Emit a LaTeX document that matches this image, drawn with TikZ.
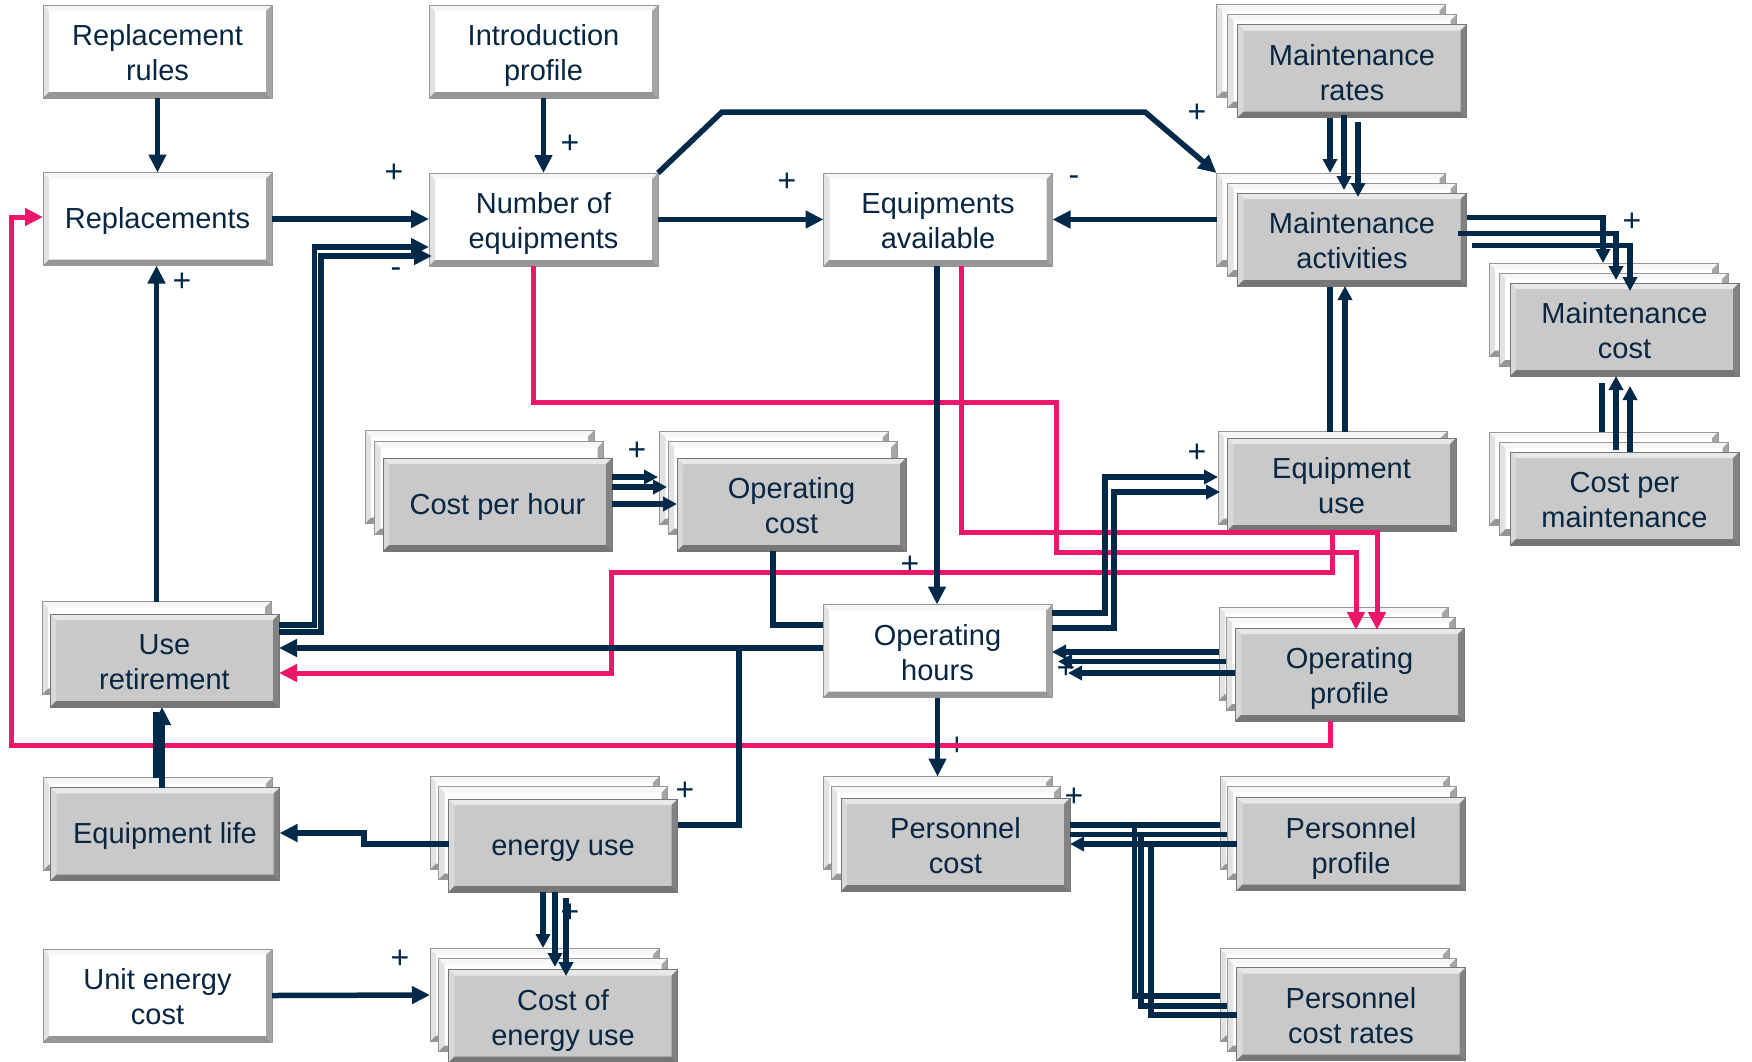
\documentclass[tikz,border=0pt]{standalone}
\usepackage{fontspec}
\setmainfont{Liberation Sans}
\usetikzlibrary{arrows.meta,calc}
\definecolor{navy}{RGB}{0,41,74}
\definecolor{pinkl}{RGB}{237,22,106}
\definecolor{txtc}{RGB}{8,38,66}
\newcommand\bevw{6pt}
\newcommand\bxs{\rule[-8pt]{0pt}{35pt}}
\newcommand\bxt{\rule[-8pt]{0pt}{39pt}}
\newcommand\bevelfill[4]{%
 \fill[#1] (path picture bounding box.north west) -- (path picture bounding box.north east) -- ([shift={(-\bevw,-\bevw)}]path picture bounding box.north east) -- ([shift={(\bevw,-\bevw)}]path picture bounding box.north west) -- cycle;
 \fill[#2] (path picture bounding box.north west) -- (path picture bounding box.south west) -- ([shift={(\bevw,\bevw)}]path picture bounding box.south west) -- ([shift={(\bevw,-\bevw)}]path picture bounding box.north west) -- cycle;
 \fill[#3] (path picture bounding box.north east) -- (path picture bounding box.south east) -- ([shift={(-\bevw,\bevw)}]path picture bounding box.south east) -- ([shift={(-\bevw,-\bevw)}]path picture bounding box.north east) -- cycle;
 \fill[#4] (path picture bounding box.south west) -- (path picture bounding box.south east) -- ([shift={(-\bevw,\bevw)}]path picture bounding box.south east) -- ([shift={(\bevw,\bevw)}]path picture bounding box.south west) -- cycle;
}
\definecolor{wtop}{RGB}{246,246,246}
\definecolor{wleft}{RGB}{226,226,226}
\definecolor{wright}{RGB}{165,165,165}
\definecolor{wbot}{RGB}{150,150,150}
\definecolor{wline}{RGB}{150,150,150}
\definecolor{gfill}{RGB}{201,201,201}
\definecolor{gtop}{RGB}{232,232,232}
\definecolor{gleft}{RGB}{216,216,216}
\definecolor{gright}{RGB}{130,130,130}
\definecolor{gbot}{RGB}{118,118,118}
\tikzset{
 boxbase/.style={minimum width=229pt, minimum height=93pt, inner sep=0pt, outer sep=0pt,
   text=txtc, align=center, font=\fontsize{29}{35}\selectfont, line width=0.8pt},
 wbox/.style={boxbase, draw=wline, fill=white, path picture={\bevelfill{wtop}{wleft}{wright}{wbot}}},
 gbox/.style={boxbase, draw=gbot, fill=gfill, path picture={\bevelfill{gtop}{gleft}{gright}{gbot}}},
 nv/.style={draw=navy, line width=5.5pt},
 pk/.style={draw=pinkl, line width=5pt},
 arr/.style={-{Triangle[length=18pt,width=17pt]}},
 sarr/.style={-{Triangle[length=14pt,width=14pt]}},
 lab/.style={text=navy, font=\fontsize{32}{32}\selectfont, inner sep=0pt},
}
\begin{document}
\begin{tikzpicture}[x=1pt,y=-1pt]
\useasboundingbox (0,0) rectangle (1752,1061);
\fill[white] (0,0) rectangle (1752,1061);

% white boxes
\node[wbox] (rrules) at (157.5,51.5) {\bxt Replacement\\\bxs rules};
\node[wbox] (intro) at (543.5,51.5) {\bxt Introduction\\\bxs profile};
\node[wbox] (repl) at (157.5,219) {\bxs Replacements};
\node[wbox] (noe) at (543.5,219.5) {\bxt Number of\\\bxs equipments};
\node[wbox] (eqav) at (938,219.5) {\bxt Equipments\\\bxs available};
\node[wbox] (ophrs) at (937.5,651) {\bxt Operating\\\bxs hours};
\node[wbox] (unitec) at (157.5,995.5) {\bxt Unit energy\\\bxs cost};

% stacked boxes
\node[wbox] (mrates3) at (1331,51) {};
\node[wbox] (mrates2) at (1342,61) {};
\node[gbox] (mrates) at (1352,71) {\bxt Maintenance\\\bxs rates};

\node[wbox] (mact3) at (1331,219.5) {};
\node[wbox] (mact2) at (1342,229.5) {};
\node[gbox] (mact) at (1352,239.5) {\bxt Maintenance\\\bxs activities};

\node[wbox] (mcost3) at (1603.5,310) {};
\node[wbox] (mcost2) at (1613.5,319.5) {};
\node[gbox] (mcost) at (1624.5,329.5) {\bxt Maintenance\\\bxs cost};

\node[wbox] (cpm3) at (1603.5,478.5) {};
\node[wbox] (cpm2) at (1614,488.5) {};
\node[gbox] (cpm) at (1624.5,498.5) {\bxt Cost per\\\bxs maintenance};

\node[wbox] (equse2) at (1332.5,478) {};
\node[gbox] (equse) at (1341.5,484.5) {\bxt Equipment\\\bxs use};

\node[wbox] (opprof3) at (1333.5,653.5) {};
\node[wbox] (opprof2) at (1340.5,663.5) {};
\node[gbox] (opprof) at (1349.5,674.5) {\bxt Operating\\\bxs profile};

\node[wbox] (cph3) at (479.5,477) {};
\node[wbox] (cph2) at (489,488) {};
\node[gbox] (cph) at (497.5,504.5) {\bxs Cost per hour};

\node[wbox] (opcost3) at (774,478) {};
\node[wbox] (opcost2) at (782.5,488) {};
\node[gbox] (opcost) at (791.5,504.5) {\bxt Operating\\\bxs cost};

\node[wbox] (useret2) at (156.5,648) {};
\node[gbox] (useret) at (164.5,660.5) {\bxt Use\\\bxs retirement};

\node[wbox] (eqlife2) at (157.5,824) {};
\node[gbox] (eqlife) at (165,834) {\bxs Equipment life};

\node[wbox] (enuse3) at (544.5,823) {};
\node[wbox] (enuse2) at (553,833) {};
\node[gbox] (enuse) at (563,845.5) {\bxs energy use};

\node[wbox] (coeu3) at (544.5,995) {};
\node[wbox] (coeu2) at (553,1005) {};
\node[gbox] (coeu) at (563,1016) {\bxt Cost of\\\bxs energy use};

\node[wbox] (pcost3) at (937.5,823) {};
\node[wbox] (pcost2) at (945.5,833) {};
\node[gbox] (pcost) at (955.5,844.5) {\bxt Personnel\\\bxs cost};

\node[wbox] (pprof3) at (1334.5,823) {};
\node[wbox] (pprof2) at (1341.5,833) {};
\node[gbox] (pprof) at (1351,844) {\bxt Personnel\\\bxs profile};

\node[wbox] (pcr3) at (1334.5,995) {};
\node[wbox] (pcr2) at (1341.5,1005) {};
\node[gbox] (pcr) at (1351,1014) {\bxt Personnel\\\bxs cost rates};

% signs
\node[lab] (s1) at (570,144) {+};
\node[lab] (s2) at (394,173) {+};
\node[lab] (s3) at (182,282) {+};
\node[lab] (s4) at (396,273) {-};
\node[lab] (s5) at (787,182) {+};
\node[lab] (s6) at (1074,181) {-};
\node[lab] (s7) at (1197,113) {+};
\node[lab] (s8) at (1632,222) {+};
\node[lab] (s9) at (637,451) {+};
\node[lab] (s10) at (910,565) {+};
\node[lab] (s11) at (1197,453) {+};
\node[lab] (s12) at (1066,669) {+};
\node[lab] (s13) at (957,746) {+};
\node[lab] (s14) at (685,791) {+};
\node[lab] (s15) at (570,913) {+};
\node[lab] (s16) at (400,959) {+};
\node[lab] (s17) at (1074,797) {+};

% pink connectors
\draw[pk,arr] (opprof.south -| 1330,0) -- (1330,745) -- (11,745) -- (11,217) -- (repl.west |- 0,217);
\draw[pk,arr] (noe.south -| 533,0) -- (533,402) -- (1056,402) -- (1056,552) -- (1356,552) -- (1356,630);
\draw[pk,arr] (eqav.south -| 961,0) -- (961,532) -- (1377,532) -- (1377,630);
\draw[pk,arr] (equse.south -| 1332,0) -- (1332,572) -- (611,572) -- (611,673) -- (useret.east |- 0,673);

% navy connectors
\draw[nv,arr] (rrules) -- (repl);
\draw[nv,arr] (intro) -- (noe);
\draw[nv,arr] (repl.east) -- (noe.west |- repl.east);
\draw[nv,arr] (useret.east |- 0,625) -- (314.5,625) -- (314.5,247) -- (noe.west |- 0,247);
\draw[nv,arr] (useret.east |- 0,632) -- (321,632) -- (321,256) -- (432,256);
\draw[nv,arr] (noe) -- (eqav);
\draw[nv,arr] (noe.north east) -- (722,112) -- (1145,112) -- (mact3.north west);
\draw[nv,arr] (mact3.west) -- (eqav.east |- mact3.west);
% maintenance rates -> activities
\draw[nv,sarr] (mrates.south -| 1330,0) -- (mact3.north -| 1330,0);
\draw[nv,sarr] (1344,115) -- (1344,190);
\draw[nv,sarr] (1358,122) -- (1358,197);
% activities -> maintenance cost
\draw[nv,sarr] (mact.east |- 0,217.5) -- (1603,217.5) -- (1603,263);
\draw[nv,sarr] (1458,233.5) -- (1616,233.5) -- (1616,280);
\draw[nv,sarr] (1472,245.5) -- (1630,245.5) -- (1630,291);
% equipment use -> activities
\draw[nv] (equse2.north -| 1330,0) -- (1330,287);
\draw[nv,sarr] (equse2.north -| 1345,0) -- (mact.south -| 1345,0);
% cost per maintenance -> maintenance cost
\draw[nv] (cpm3.north -| 1602,0) -- (1602,383);
\draw[nv,sarr] (1616,450) -- (mcost.south -| 1616,0);
\draw[nv,sarr] (1630,452) -- (1630,386);
% cost per hour -> operating cost
\draw[nv,sarr] (cph.east |- 0,477) -- (658,477);
\draw[nv,sarr] (cph.east |- 0,487) -- (667,487);
\draw[nv,sarr] (cph.east |- 0,504) -- (opcost.west |- 0,504);
% operating cost -> operating hours
\draw[nv] (opcost.south -| 773,0) -- (773,625) -- (ophrs.west |- 0,625);
% equipments available -> operating hours
\draw[nv,arr] (eqav.south -| 937,0) -- (ophrs.north -| 937,0);
% operating hours -> use retirement, energy use
\draw[nv,arr] (ophrs.west |- 0,648) -- (useret.east |- 0,648);
\draw[nv] (739,648) -- (739,825) -- (enuse.east |- 0,825);
% operating hours -> equipment use
\draw[nv,sarr] (ophrs.east |- 0,613) -- (1105,613) -- (1105,477) -- (equse2.west |- 0,477);
\draw[nv,sarr] (ophrs.east |- 0,628) -- (1114,628) -- (1114,492) -- (1220,492);
% operating profile -> operating hours
\draw[nv,sarr] (opprof3.west |- 0,652) -- (ophrs.east |- 0,652);
\draw[nv,sarr] (opprof2.west |- 0,661.5) -- (1058,661.5);
\draw[nv,sarr] (opprof.west |- 0,673) -- (1068,673);
% operating hours -> personnel cost
\draw[nv,arr] (ophrs.south) -- (pcost3.north);
% personnel profile / cost rates -> personnel cost
\draw[nv] (pprof3.west |- 0,825) -- (pcost.east |- 0,825);
\draw[nv] (pprof2.west |- 0,834.5) -- (pcost.east |- 0,834.5);
\draw[nv,sarr] (pprof.west |- 0,844) -- (pcost.east |- 0,844);
\draw[nv] (pcr3.west |- 0,996) -- (1134.5,996) -- (1134.5,822.5);
\draw[nv] (pcr2.west |- 0,1006) -- (1141,1006) -- (1141,832);
\draw[nv] (pcr.west |- 0,1015) -- (1151,1015) -- (1151,841.5);
% unit energy cost -> cost of energy use
\draw[nv,arr] (unitec.east) -- (coeu3.west);
% energy use -> cost of energy use
\draw[nv,sarr] (enuse.south -| 543,0) -- (543,948);
\draw[nv,sarr] (enuse.south -| 555,0) -- (555,967);
\draw[nv,sarr] (566,898) -- (566,976);
% energy use -> equipment life
\draw[nv,arr] (enuse.west |- 0,844) -- (364,844) -- (364,833) -- (eqlife.east |- 0,833);
% equipment life -> use retirement
\draw[nv] (eqlife2.north -| 156,0) -- (156,712);
\draw[nv,arr] (eqlife.north -| 162,0) -- (useret.south -| 162,0);
% use retirement -> replacements
\draw[nv,arr] (useret2.north) -- (repl.south -| useret2.north);
\end{tikzpicture}
\end{document}
